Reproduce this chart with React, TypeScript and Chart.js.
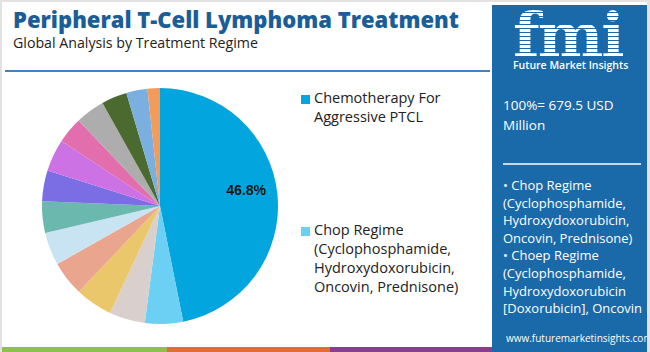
import React, { useEffect, useRef } from "react";
import { Chart, registerables } from "chart.js";

Chart.register(...registerables);

const TITLE = "Peripheral T-Cell Lymphoma Treatment";
const SUBTITLE = "Global Analysis by Treatment Regime";

const categories = [
  "Chemotherapy For Aggressive PTCL",
  "Chop Regime (Cyclophosphamide, Hydroxydoxorubicin, Oncovin, Prednisone)",
  "Choep Regime",
  "Romidepsin",
  "Pralatrexate",
  "Belinostat",
  "Brentuximab Vedotin",
  "Alemtuzumab",
  "Gemcitabine",
  "Bendamustine",
  "Cyclosporine",
  "Denileukin Diftitox",
  "Stem Cell Transplant",
  "Others",
];

const shares = [46.8, 5.2, 4.9, 5.1, 4.75, 4.5, 4.3, 4.25, 4.4, 3.6, 4.0, 3.5, 2.9, 1.7];

const colors = [
  "#03a5de", "#6ccff4", "#d9cfcd", "#ebc76c", "#eaa58e", "#c8e4f3", "#6ab8ae",
  "#7b6ee4", "#cd72e5", "#e26eae", "#adadad", "#4b6a2f", "#7aafdf", "#f39b5a",
];

const legendShown = [0, 1];
const legendLines = [
  ["Chemotherapy For", "Aggressive PTCL"],
  ["Chop Regime", "(Cyclophosphamide,", "Hydroxydoxorubicin,", "Oncovin, Prednisone)"],
];

const totalText = ["100%= 679.5 USD", "Million"];
const panelLines = [
  "\u2022 Chop Regime",
  "(Cyclophosphamide,",
  "Hydroxydoxorubicin,",
  "Oncovin, Prednisone)",
  "\u2022 Choep Regime",
  "(Cyclophosphamide,",
  "Hydroxydoxorubicin",
  "[Doxorubicin], Oncovin",
];
const website = "www.futuremarketinsights.com";
const labelledSlices = [0];

const FONT = "'Open Sans', 'Noto Sans', sans-serif";

const labelPlugin = {
  id: "sliceLabels",
  afterDatasetsDraw(chart: any) {
    const meta = chart.getDatasetMeta(0);
    const ctx = chart.ctx;
    ctx.save();
    ctx.font = "bold 14px 'Liberation Sans', Arial, sans-serif";
    ctx.fillStyle = "#111";
    ctx.textAlign = "center";
    ctx.textBaseline = "middle";
    labelledSlices.forEach((i) => {
      const arc = meta.data[i];
      const mid = (arc.startAngle + arc.endAngle) / 2 - 0.07;
      const r = arc.outerRadius * 0.74;
      ctx.fillText(shares[i].toFixed(1) + "%", arc.x + Math.cos(mid) * r, arc.y + Math.sin(mid) * r);
    });
    ctx.restore();
  },
};

function PieChart() {
  const ref = useRef<HTMLCanvasElement>(null);
  useEffect(() => {
    if (!ref.current) return;
    const chart = new Chart(ref.current, {
      type: "pie",
      data: {
        labels: categories,
        datasets: [{ data: shares, backgroundColor: colors, borderWidth: 0 }],
      },
      options: {
        responsive: false,
        animation: false,
        layout: { padding: 0 },
        plugins: { legend: { display: false }, tooltip: { enabled: false } },
      },
      plugins: [labelPlugin],
    });
    return () => chart.destroy();
  }, []);
  return <canvas ref={ref} width={236} height={236} style={{ width: 236, height: 236, display: "block" }} />;
}

export default function App() {
  return (
    <div
      style={{
        position: "absolute",
        left: 0,
        top: 0,
        width: 650,
        height: 352,
        overflow: "hidden",
        background: "#fff",
        fontFamily: FONT,
        boxSizing: "border-box",
        borderLeft: "2px solid #e2e2e2",
        borderTop: "2px solid #e2e2e2",
        borderRight: "3px solid #e2e2e2",
      }}
    >
      <div style={{ position: "absolute", left: 11, top: 0, fontSize: 22, fontWeight: 800, color: "#1b5e97", whiteSpace: "nowrap", lineHeight: "34px" }}>
        {TITLE}
      </div>
      <div style={{ position: "absolute", left: 11, top: 31, fontSize: 14.2, color: "#222", whiteSpace: "nowrap", lineHeight: "20px" }}>
        {SUBTITLE}
      </div>
      <div style={{ position: "absolute", left: 3, top: 68, width: 485, height: 2, background: "#3f83c4" }} />

      <div style={{ position: "absolute", left: 40, top: 86 }}>
        <PieChart />
      </div>

      {legendShown.map((idx, k) => (
        <div key={idx} style={{ position: "absolute", left: 299, top: k === 0 ? 86 : 218 }}>
          <div style={{ position: "absolute", left: 0, top: 7, width: 9, height: 9, background: colors[idx] }} />
          <div style={{ position: "absolute", left: 13, top: 0, fontSize: 14.5, lineHeight: "19px", color: "#222", whiteSpace: "nowrap" }}>
            {legendLines[k].map((l, j) => (
              <div key={j}>{l}</div>
            ))}
          </div>
        </div>
      ))}

      <div style={{ position: "absolute", left: 490, top: 3, width: 155, height: 352, background: "#1a69a9", color: "#fff" }}>
        <div
          style={{
            position: "absolute",
            left: 21,
            top: 0,
            fontSize: 62,
            fontWeight: 900,
            fontFamily: "'DejaVu Serif', serif",
            lineHeight: "62px",
            letterSpacing: -2,
            backgroundImage: "repeating-linear-gradient(to bottom, #ffffff 0px, #ffffff 3px, #1a69a9 3px, #1a69a9 4px)",
            WebkitBackgroundClip: "text",
            backgroundClip: "text",
            color: "transparent",
          }}
        >
          fmi
        </div>
        <div style={{ position: "absolute", left: 21, top: 53, fontSize: 10.5, fontWeight: 600, whiteSpace: "nowrap", lineHeight: "14px" }}>Future Market Insights</div>
        <div style={{ position: "absolute", left: 11, top: 90, fontSize: 13.5, lineHeight: "20px" }}>
          {totalText.map((t, i) => (
            <div key={i}>{t}</div>
          ))}
        </div>
        <div style={{ position: "absolute", left: 11, top: 158, width: 138, height: 1.5, background: "rgba(255,255,255,0.75)" }} />
        <div style={{ position: "absolute", left: 11, top: 172, fontSize: 13, lineHeight: "17.6px", whiteSpace: "nowrap" }}>
          {panelLines.map((t, i) => (
            <div key={i}>{t}</div>
          ))}
        </div>
        <div style={{ position: "absolute", left: 14, top: 326, fontSize: 10, lineHeight: "14px", whiteSpace: "nowrap" }}>{website}</div>
      </div>

      <div style={{ position: "absolute", left: 0, top: 345, width: 165, height: 5, background: "#8dc04f" }} />
      <div style={{ position: "absolute", left: 165, top: 345, width: 163, height: 5, background: "#e36b35" }} />
      <div style={{ position: "absolute", left: 328, top: 345, width: 162, height: 5, background: "#8c3b8e" }} />
    </div>
  );
}
